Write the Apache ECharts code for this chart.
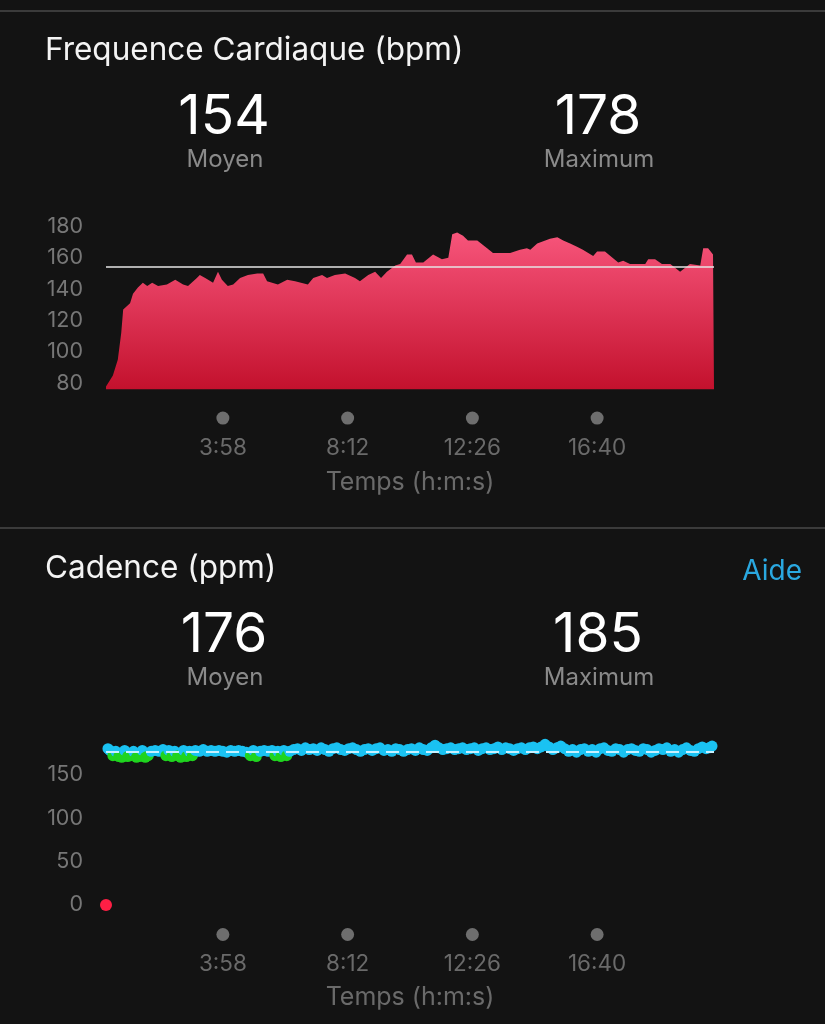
<!DOCTYPE html>
<html><head><meta charset="utf-8">
<script src="https://cdn.jsdelivr.net/npm/echarts@6/dist/echarts.min.js"></script>
<style>html,body{margin:0;padding:0;background:#131313;}#c{width:825px;height:1024px;}</style>
</head><body><div id="c"></div>
<script>
// ---- data ----
const hrTitle = 'Frequence Cardiaque (bpm)';
const cadTitle = 'Cadence (ppm)';
const statLabels = ['Moyen', 'Maximum'];
const hrStats = [154, 178];
const cadStats = [176, 185];
const helpLabel = 'Aide';
const xAxisName = 'Temps (h:m:s)';
const totalSeconds = 1238;
const tickSeconds = [238, 492, 746, 1000];
const hrYTicks = [80, 100, 120, 140, 160, 180];
const cadYTicks = [0, 50, 100, 150];

const hrTimes = [0, 14, 24, 31, 35, 49, 55, 65, 75, 84, 94, 106, 124, 141, 157, 167, 185, 191, 202, 218, 228, 236, 248, 259, 273, 289, 308, 320, 328, 350, 369, 385, 411, 422, 440, 450, 466, 487, 507, 517, 534, 548, 560, 572, 589, 599, 613, 623, 631, 646, 666, 684, 697, 705, 715, 727, 737, 756, 776, 788, 802, 823, 843, 857, 864, 878, 904, 919, 931, 945, 959, 971, 992, 1000, 1016, 1043, 1053, 1067, 1098, 1104, 1118, 1132, 1149, 1169, 1189, 1210, 1216, 1226, 1236, 1238];
const hrValues = [78, 85, 95, 112, 127, 131, 137, 141, 144, 142, 144, 142, 143, 146, 143, 142, 147, 149, 147, 144, 151, 146, 142, 143, 147, 149, 150, 150, 145, 143, 146, 145, 143, 147, 149, 147, 149, 150, 147, 145, 149, 151, 147, 151, 155, 156, 162, 162, 157, 157, 162, 159, 160, 175, 176, 174, 171, 171, 166, 163, 163, 163, 165, 166, 165, 169, 172, 173, 171, 169, 167, 165, 161, 164, 164, 157, 158, 156, 156, 159, 159, 156, 156, 151, 156, 155, 166, 166, 162, 162];

const cadTimes = [0, 4, 8, 14, 20, 26, 32, 38, 44, 50, 56, 62, 68, 74, 80, 86, 92, 100, 108, 116, 122, 128, 134, 140, 146, 152, 158, 164, 170, 176, 182, 190, 198, 206, 214, 222, 230, 238, 246, 254, 262, 270, 278, 286, 294, 300, 306, 314, 322, 330, 338, 344, 350, 356, 362, 368, 374, 382, 390, 398, 406, 414, 422, 430, 438, 446, 454, 462, 470, 478, 486, 494, 502, 510, 518, 526, 534, 542, 550, 558, 566, 574, 582, 590, 598, 606, 614, 622, 630, 638, 646, 654, 662, 670, 678, 686, 694, 702, 710, 718, 726, 734, 742, 750, 758, 766, 774, 782, 790, 798, 806, 814, 822, 830, 838, 846, 854, 862, 870, 878, 886, 894, 902, 910, 918, 926, 934, 942, 950, 958, 966, 974, 982, 990, 998, 1006, 1014, 1022, 1030, 1038, 1046, 1054, 1062, 1070, 1078, 1086, 1094, 1102, 1110, 1118, 1126, 1134, 1142, 1150, 1158, 1166, 1174, 1182, 1190, 1198, 1206, 1214, 1222, 1228, 1234];
const cadValues = [0, 180, 178, 172, 177, 171, 170, 178, 171, 172, 177, 170, 171, 178, 170, 172, 177, 178, 177, 179, 172, 178, 171, 177, 172, 170, 178, 171, 177, 172, 178, 177, 179, 177, 178, 177, 178, 177, 176, 178, 177, 178, 177, 176, 172, 178, 171, 177, 178, 177, 178, 172, 177, 171, 178, 172, 177, 179, 180, 178, 181, 179, 180, 178, 181, 179, 177, 180, 181, 179, 178, 180, 181, 179, 177, 179, 180, 178, 180, 181, 178, 179, 177, 180, 179, 177, 179, 180, 178, 181, 179, 178, 181, 184, 181, 179, 180, 181, 179, 180, 181, 179, 180, 181, 178, 180, 181, 179, 180, 182, 179, 181, 180, 178, 180, 181, 179, 181, 182, 180, 182, 185, 182, 179, 181, 183, 180, 177, 179, 176, 179, 180, 177, 179, 176, 180, 181, 178, 177, 180, 179, 176, 179, 180, 178, 177, 180, 179, 176, 178, 180, 179, 181, 177, 179, 176, 179, 181, 178, 177, 180, 182, 180, 181, 183];

// ---- styles ----
const FONT = 'Inter, Roboto, "Noto Sans", sans-serif';
const GRAY_LABEL = '#777777';
const GRAY_TICK = '#6a6a6a';
const fmtTime = s => Math.floor(s / 60) + ':' + String(s % 60).padStart(2, '0');

function xAxesFor(gridIndex, dotMargin, labelMargin, nameGap) {
  const base = {
    gridIndex, type: 'value', min: 0, max: totalSeconds, position: 'bottom',
    axisLine: { show: false }, axisTick: { show: false }, splitLine: { show: false }
  };
  return [
    Object.assign({}, base, {
      axisLabel: {
        customValues: tickSeconds, margin: dotMargin,
        formatter: () => '{d|\u00a0}',
        rich: { d: { width: 13, height: 13, borderRadius: 7, backgroundColor: '#6e6e6e', fontSize: 1, lineHeight: 13 } }
      }
    }),
    Object.assign({}, base, {
      name: xAxisName, nameLocation: 'middle', nameGap: nameGap,
      nameTextStyle: { color: GRAY_TICK, fontSize: 25, fontFamily: FONT },
      axisLabel: {
        customValues: tickSeconds, margin: labelMargin, formatter: v => fmtTime(v),
        color: GRAY_TICK, fontSize: 22.5, fontFamily: FONT
      }
    })
  ];
}

const yBase = {
  type: 'value', axisLine: { show: false }, axisTick: { show: false }, splitLine: { show: false }
};

const chart = echarts.init(document.getElementById('c'), null, { renderer: 'canvas' });

function header(y0, title, stats, withHelp) {
  const els = [
    { type: 'text', x: 45, y: y0 + 1, style: { text: title, fill: '#f4f4f4', font: '400 31.5px ' + FONT, align: 'left', verticalAlign: 'middle' } },
    { type: 'text', x: 224, y: y0 + 67, style: { text: String(stats[0]), fill: '#ffffff', font: '400 55px ' + FONT, align: 'center', verticalAlign: 'middle' } },
    { type: 'text', x: 598, y: y0 + 67, style: { text: String(stats[1]), fill: '#ffffff', font: '400 55px ' + FONT, align: 'center', verticalAlign: 'middle' } },
    { type: 'text', x: 225, y: y0 + 110, style: { text: statLabels[0], fill: '#8a8a8a', font: '400 24px ' + FONT, align: 'center', verticalAlign: 'middle' } },
    { type: 'text', x: 599, y: y0 + 110, style: { text: statLabels[1], fill: '#8a8a8a', font: '400 24px ' + FONT, align: 'center', verticalAlign: 'middle' } }
  ];
  if (withHelp) els.push({ type: 'text', x: 802, y: y0 + 4, style: { text: helpLabel, fill: '#2aa8e0', font: '400 28px ' + FONT, align: 'right', verticalAlign: 'middle' } });
  return els;
}

const option = {
  backgroundColor: '#131313',
  animation: false,
  graphic: [
    { type: 'line', shape: { x1: 0, y1: 11, x2: 825, y2: 11 }, style: { stroke: '#4a4a4a', lineWidth: 1.5 } },
    { type: 'line', shape: { x1: 0, y1: 528, x2: 825, y2: 528 }, style: { stroke: '#4a4a4a', lineWidth: 1.5 } }
  ].concat(header(50, hrTitle, hrStats, false)).concat(header(568, cadTitle, cadStats, true)),
  grid: [
    { left: 106, right: 111, top: 220, height: 169.6 },
    { left: 106, right: 111, top: 740, height: 165 }
  ],
  xAxis: xAxesFor(0, 22, 47, 80).concat(xAxesFor(1, 23, 48, 80)),
  yAxis: [
    Object.assign({}, yBase, { gridIndex: 0, min: 76, max: 184,
      axisLabel: { customValues: hrYTicks, color: GRAY_LABEL, fontSize: 21.5, fontFamily: FONT, margin: 23 } }),
    Object.assign({}, yBase, { gridIndex: 1, min: 0, max: 190,
      axisLabel: { customValues: cadYTicks, color: GRAY_LABEL, fontSize: 21.5, fontFamily: FONT, margin: 23 } })
  ],
  visualMap: {
    type: 'piecewise', show: false, seriesIndex: 1, dimension: 1,
    pieces: [
      { lt: 100, color: '#ff1f45' },
      { gte: 100, lt: 174, color: '#1fd41f' },
      { gte: 174, color: '#1ac2f2' }
    ]
  },
  series: [
    {
      type: 'line', xAxisIndex: 1, yAxisIndex: 0,
      data: hrTimes.map((t, i) => [t, hrValues[i]]),
      showSymbol: false, symbol: 'none',
      lineStyle: { width: 0 },
      areaStyle: {
        opacity: 1,
        color: new echarts.graphic.LinearGradient(0, 0, 0, 1, [
          { offset: 0, color: '#f7557b' },
          { offset: 1, color: '#c3112d' }
        ])
      },
      markLine: {
        silent: true, symbol: 'none', label: { show: false },
        lineStyle: { color: '#e6e6e6', width: 1.5, type: 'solid' },
        data: [{ yAxis: hrStats[0] }]
      }
    },
    {
      type: 'scatter', xAxisIndex: 3, yAxisIndex: 1,
      data: cadTimes.map((t, i) => [t, cadValues[i]]),
      symbolSize: v => (v[1] < 100 ? 12 : 11),
      itemStyle: { opacity: 1 },
      markLine: {
        silent: true, symbol: 'none', label: { show: false },
        lineStyle: { color: '#c6f0ff', width: 2, type: [13, 7] },
        data: [{ yAxis: cadStats[0] }]
      }
    }
  ]
};
chart.setOption(option);
</script>
</body></html>
